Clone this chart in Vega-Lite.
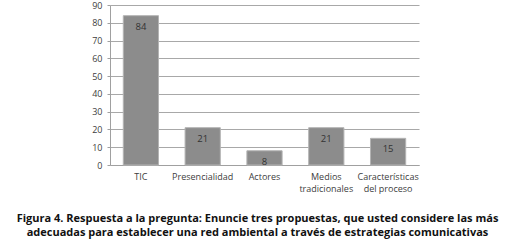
{
  "$schema": "https://vega.github.io/schema/vega-lite/v6.json",
  "width": 309,
  "height": 160,
  "autosize": {"type": "none"},
  "padding": {"left": 110, "top": 5, "right": 95, "bottom": 80},
  "background": "white",
  "data": {"values": [
    {"cat": "TIC", "value": 84},
    {"cat": "Presencialidad", "value": 21},
    {"cat": "Actores", "value": 8},
    {"cat": "Medios|tradicionales", "value": 21},
    {"cat": "Características|del proceso", "value": 15}
  ]},
  "title": {
    "text": ["Figura 4. Respuesta a la pregunta: Enuncie tres propuestas, que usted considere las más", "adecuadas para establecer una red ambiental a través de estrategias comunicativas"],
    "orient": "bottom",
    "anchor": "middle",
    "frame": "group",
    "dx": -7,
    "offset": 20,
    "font": "Open Sans",
    "fontSize": 11,
    "fontWeight": "bold",
    "lineHeight": 14,
    "color": "#111111"
  },
  "config": {"view": {"stroke": null}},
  "encoding": {
    "x": {
      "field": "cat", "type": "nominal", "sort": null,
      "scale": {"paddingInner": 0.43, "paddingOuter": 0.215},
      "axis": {
        "title": null, "labelAngle": 0, "labelExpr": "split(datum.value, '|')",
        "labelFont": "Open Sans", "labelFontSize": 9, "labelColor": "#404040",
        "labelPadding": 7, "ticks": false, "domainColor": "#a0a0a0", "labelLineHeight": 12
      }
    },
    "y": {
      "field": "value", "type": "quantitative",
      "scale": {"domain": [0, 90]},
      "axis": {
        "title": null, "values": [0,10,20,30,40,50,60,70,80,90],
        "labelFont": "Open Sans", "labelFontSize": 9, "labelColor": "#404040",
        "gridColor": "#a8a8a8", "domainColor": "#a0a0a0", "tickColor": "#a0a0a0",
        "tickSize": 3, "labelPadding": 5
      }
    }
  },
  "layer": [
    {"mark": {"type": "bar", "color": "#8c8c8c", "stroke": "#b4b4b4", "strokeWidth": 1}},
    {"mark": {"type": "text", "baseline": "top", "dy": 6, "font": "Open Sans", "fontSize": 9.5, "color": "#333333"},
     "encoding": {"text": {"field": "value", "type": "quantitative"}}}
  ]
}
